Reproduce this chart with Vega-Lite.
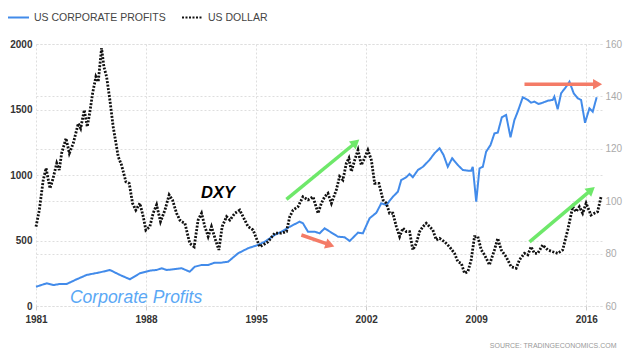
{
  "$schema": "https://vega.github.io/schema/vega-lite/v6.json",
  "width": 566,
  "height": 262,
  "autosize": {"type": "none"},
  "padding": {"left": 36, "top": 44, "right": 38, "bottom": 48},
  "background": "#ffffff",
  "config": {
    "view": {"stroke": null},
    "font": "Liberation Sans",
    "axis": {"gridColor": "#dedede", "gridDash": [2, 2], "gridWidth": 1, "domain": false, "labelFont": "Liberation Sans"}
  },
  "datasets": {
    "series": [
      {"year":1981.00,"value":147,"series":"US CORPORATE PROFITS"},
      {"year":1981.68,"value":173,"series":"US CORPORATE PROFITS"},
      {"year":1982.10,"value":160,"series":"US CORPORATE PROFITS"},
      {"year":1982.52,"value":168,"series":"US CORPORATE PROFITS"},
      {"year":1982.95,"value":168,"series":"US CORPORATE PROFITS"},
      {"year":1983.59,"value":204,"series":"US CORPORATE PROFITS"},
      {"year":1984.22,"value":237,"series":"US CORPORATE PROFITS"},
      {"year":1985.07,"value":257,"series":"US CORPORATE PROFITS"},
      {"year":1985.70,"value":275,"series":"US CORPORATE PROFITS"},
      {"year":1986.34,"value":237,"series":"US CORPORATE PROFITS"},
      {"year":1986.97,"value":204,"series":"US CORPORATE PROFITS"},
      {"year":1987.61,"value":250,"series":"US CORPORATE PROFITS"},
      {"year":1988.24,"value":270,"series":"US CORPORATE PROFITS"},
      {"year":1988.67,"value":275,"series":"US CORPORATE PROFITS"},
      {"year":1988.99,"value":288,"series":"US CORPORATE PROFITS"},
      {"year":1989.31,"value":275,"series":"US CORPORATE PROFITS"},
      {"year":1989.72,"value":280,"series":"US CORPORATE PROFITS"},
      {"year":1990.26,"value":288,"series":"US CORPORATE PROFITS"},
      {"year":1990.78,"value":262,"series":"US CORPORATE PROFITS"},
      {"year":1991.10,"value":300,"series":"US CORPORATE PROFITS"},
      {"year":1991.53,"value":313,"series":"US CORPORATE PROFITS"},
      {"year":1991.95,"value":313,"series":"US CORPORATE PROFITS"},
      {"year":1992.37,"value":331,"series":"US CORPORATE PROFITS"},
      {"year":1992.80,"value":331,"series":"US CORPORATE PROFITS"},
      {"year":1993.22,"value":338,"series":"US CORPORATE PROFITS"},
      {"year":1993.85,"value":402,"series":"US CORPORATE PROFITS"},
      {"year":1994.49,"value":441,"series":"US CORPORATE PROFITS"},
      {"year":1995.12,"value":466,"series":"US CORPORATE PROFITS"},
      {"year":1995.55,"value":491,"series":"US CORPORATE PROFITS"},
      {"year":1996.18,"value":542,"series":"US CORPORATE PROFITS"},
      {"year":1996.61,"value":567,"series":"US CORPORATE PROFITS"},
      {"year":1997.14,"value":605,"series":"US CORPORATE PROFITS"},
      {"year":1997.77,"value":644,"series":"US CORPORATE PROFITS"},
      {"year":1997.98,"value":631,"series":"US CORPORATE PROFITS"},
      {"year":1998.30,"value":567,"series":"US CORPORATE PROFITS"},
      {"year":1998.73,"value":567,"series":"US CORPORATE PROFITS"},
      {"year":1999.04,"value":555,"series":"US CORPORATE PROFITS"},
      {"year":1999.36,"value":593,"series":"US CORPORATE PROFITS"},
      {"year":1999.79,"value":560,"series":"US CORPORATE PROFITS"},
      {"year":2000.21,"value":529,"series":"US CORPORATE PROFITS"},
      {"year":2000.63,"value":525,"series":"US CORPORATE PROFITS"},
      {"year":2000.95,"value":496,"series":"US CORPORATE PROFITS"},
      {"year":2001.48,"value":560,"series":"US CORPORATE PROFITS"},
      {"year":2001.79,"value":555,"series":"US CORPORATE PROFITS"},
      {"year":2002.22,"value":670,"series":"US CORPORATE PROFITS"},
      {"year":2002.65,"value":712,"series":"US CORPORATE PROFITS"},
      {"year":2002.96,"value":784,"series":"US CORPORATE PROFITS"},
      {"year":2003.28,"value":771,"series":"US CORPORATE PROFITS"},
      {"year":2003.70,"value":834,"series":"US CORPORATE PROFITS"},
      {"year":2004.02,"value":873,"series":"US CORPORATE PROFITS"},
      {"year":2004.23,"value":962,"series":"US CORPORATE PROFITS"},
      {"year":2004.55,"value":983,"series":"US CORPORATE PROFITS"},
      {"year":2004.76,"value":1008,"series":"US CORPORATE PROFITS"},
      {"year":2004.97,"value":983,"series":"US CORPORATE PROFITS"},
      {"year":2005.29,"value":1038,"series":"US CORPORATE PROFITS"},
      {"year":2005.61,"value":1063,"series":"US CORPORATE PROFITS"},
      {"year":2006.03,"value":1115,"series":"US CORPORATE PROFITS"},
      {"year":2006.35,"value":1166,"series":"US CORPORATE PROFITS"},
      {"year":2006.67,"value":1204,"series":"US CORPORATE PROFITS"},
      {"year":2006.92,"value":1153,"series":"US CORPORATE PROFITS"},
      {"year":2007.19,"value":1063,"series":"US CORPORATE PROFITS"},
      {"year":2007.47,"value":1128,"series":"US CORPORATE PROFITS"},
      {"year":2007.83,"value":1076,"series":"US CORPORATE PROFITS"},
      {"year":2008.15,"value":1038,"series":"US CORPORATE PROFITS"},
      {"year":2008.47,"value":1033,"series":"US CORPORATE PROFITS"},
      {"year":2008.68,"value":1033,"series":"US CORPORATE PROFITS"},
      {"year":2008.78,"value":1063,"series":"US CORPORATE PROFITS"},
      {"year":2009.00,"value":796,"series":"US CORPORATE PROFITS"},
      {"year":2009.21,"value":1051,"series":"US CORPORATE PROFITS"},
      {"year":2009.42,"value":1063,"series":"US CORPORATE PROFITS"},
      {"year":2009.63,"value":1178,"series":"US CORPORATE PROFITS"},
      {"year":2009.91,"value":1229,"series":"US CORPORATE PROFITS"},
      {"year":2010.16,"value":1318,"series":"US CORPORATE PROFITS"},
      {"year":2010.37,"value":1323,"series":"US CORPORATE PROFITS"},
      {"year":2010.63,"value":1441,"series":"US CORPORATE PROFITS"},
      {"year":2010.90,"value":1458,"series":"US CORPORATE PROFITS"},
      {"year":2011.18,"value":1288,"series":"US CORPORATE PROFITS"},
      {"year":2011.43,"value":1420,"series":"US CORPORATE PROFITS"},
      {"year":2011.64,"value":1483,"series":"US CORPORATE PROFITS"},
      {"year":2011.96,"value":1593,"series":"US CORPORATE PROFITS"},
      {"year":2012.28,"value":1573,"series":"US CORPORATE PROFITS"},
      {"year":2012.49,"value":1552,"series":"US CORPORATE PROFITS"},
      {"year":2012.70,"value":1560,"series":"US CORPORATE PROFITS"},
      {"year":2012.96,"value":1542,"series":"US CORPORATE PROFITS"},
      {"year":2013.23,"value":1552,"series":"US CORPORATE PROFITS"},
      {"year":2013.55,"value":1567,"series":"US CORPORATE PROFITS"},
      {"year":2013.87,"value":1573,"series":"US CORPORATE PROFITS"},
      {"year":2013.97,"value":1598,"series":"US CORPORATE PROFITS"},
      {"year":2014.18,"value":1502,"series":"US CORPORATE PROFITS"},
      {"year":2014.40,"value":1624,"series":"US CORPORATE PROFITS"},
      {"year":2014.72,"value":1674,"series":"US CORPORATE PROFITS"},
      {"year":2014.93,"value":1712,"series":"US CORPORATE PROFITS"},
      {"year":2015.20,"value":1624,"series":"US CORPORATE PROFITS"},
      {"year":2015.45,"value":1586,"series":"US CORPORATE PROFITS"},
      {"year":2015.67,"value":1573,"series":"US CORPORATE PROFITS"},
      {"year":2015.92,"value":1399,"series":"US CORPORATE PROFITS"},
      {"year":2016.20,"value":1509,"series":"US CORPORATE PROFITS"},
      {"year":2016.41,"value":1483,"series":"US CORPORATE PROFITS"},
      {"year":2016.66,"value":1593,"series":"US CORPORATE PROFITS"},
      {"year":1981.00,"value":90.3,"series":"US DOLLAR"},
      {"year":1981.21,"value":96.6,"series":"US DOLLAR"},
      {"year":1981.46,"value":108.1,"series":"US DOLLAR"},
      {"year":1981.64,"value":112.6,"series":"US DOLLAR"},
      {"year":1981.89,"value":104.9,"series":"US DOLLAR"},
      {"year":1982.06,"value":108.1,"series":"US DOLLAR"},
      {"year":1982.32,"value":114.5,"series":"US DOLLAR"},
      {"year":1982.48,"value":111.9,"series":"US DOLLAR"},
      {"year":1982.63,"value":118.3,"series":"US DOLLAR"},
      {"year":1982.91,"value":124.0,"series":"US DOLLAR"},
      {"year":1983.12,"value":118.3,"series":"US DOLLAR"},
      {"year":1983.37,"value":122.1,"series":"US DOLLAR"},
      {"year":1983.69,"value":129.7,"series":"US DOLLAR"},
      {"year":1983.84,"value":127.8,"series":"US DOLLAR"},
      {"year":1984.07,"value":134.8,"series":"US DOLLAR"},
      {"year":1984.26,"value":128.4,"series":"US DOLLAR"},
      {"year":1984.43,"value":134.2,"series":"US DOLLAR"},
      {"year":1984.60,"value":141.2,"series":"US DOLLAR"},
      {"year":1984.81,"value":147.5,"series":"US DOLLAR"},
      {"year":1984.96,"value":145.6,"series":"US DOLLAR"},
      {"year":1985.17,"value":158.4,"series":"US DOLLAR"},
      {"year":1985.32,"value":151.3,"series":"US DOLLAR"},
      {"year":1985.49,"value":147.5,"series":"US DOLLAR"},
      {"year":1985.70,"value":138.6,"series":"US DOLLAR"},
      {"year":1985.91,"value":128.4,"series":"US DOLLAR"},
      {"year":1986.23,"value":117.0,"series":"US DOLLAR"},
      {"year":1986.44,"value":113.8,"series":"US DOLLAR"},
      {"year":1986.72,"value":107.4,"series":"US DOLLAR"},
      {"year":1986.93,"value":106.8,"series":"US DOLLAR"},
      {"year":1987.14,"value":99.2,"series":"US DOLLAR"},
      {"year":1987.35,"value":96.6,"series":"US DOLLAR"},
      {"year":1987.61,"value":99.2,"series":"US DOLLAR"},
      {"year":1987.82,"value":94.1,"series":"US DOLLAR"},
      {"year":1987.99,"value":89.0,"series":"US DOLLAR"},
      {"year":1988.24,"value":90.3,"series":"US DOLLAR"},
      {"year":1988.45,"value":95.4,"series":"US DOLLAR"},
      {"year":1988.67,"value":98.6,"series":"US DOLLAR"},
      {"year":1988.92,"value":92.2,"series":"US DOLLAR"},
      {"year":1989.20,"value":96.6,"series":"US DOLLAR"},
      {"year":1989.47,"value":102.4,"series":"US DOLLAR"},
      {"year":1989.68,"value":100.5,"series":"US DOLLAR"},
      {"year":1989.94,"value":95.4,"series":"US DOLLAR"},
      {"year":1990.15,"value":92.8,"series":"US DOLLAR"},
      {"year":1990.26,"value":92.2,"series":"US DOLLAR"},
      {"year":1990.47,"value":91.6,"series":"US DOLLAR"},
      {"year":1990.78,"value":83.9,"series":"US DOLLAR"},
      {"year":1991.06,"value":82.6,"series":"US DOLLAR"},
      {"year":1991.31,"value":92.8,"series":"US DOLLAR"},
      {"year":1991.53,"value":95.4,"series":"US DOLLAR"},
      {"year":1991.74,"value":90.3,"series":"US DOLLAR"},
      {"year":1991.95,"value":86.5,"series":"US DOLLAR"},
      {"year":1992.16,"value":90.3,"series":"US DOLLAR"},
      {"year":1992.42,"value":85.2,"series":"US DOLLAR"},
      {"year":1992.63,"value":81.4,"series":"US DOLLAR"},
      {"year":1992.84,"value":90.3,"series":"US DOLLAR"},
      {"year":1993.12,"value":94.1,"series":"US DOLLAR"},
      {"year":1993.33,"value":92.8,"series":"US DOLLAR"},
      {"year":1993.65,"value":95.4,"series":"US DOLLAR"},
      {"year":1993.96,"value":96.6,"series":"US DOLLAR"},
      {"year":1994.17,"value":94.1,"series":"US DOLLAR"},
      {"year":1994.49,"value":90.3,"series":"US DOLLAR"},
      {"year":1994.81,"value":89.0,"series":"US DOLLAR"},
      {"year":1995.02,"value":85.8,"series":"US DOLLAR"},
      {"year":1995.23,"value":82.6,"series":"US DOLLAR"},
      {"year":1995.44,"value":83.3,"series":"US DOLLAR"},
      {"year":1995.76,"value":84.5,"series":"US DOLLAR"},
      {"year":1996.18,"value":87.8,"series":"US DOLLAR"},
      {"year":1996.61,"value":87.8,"series":"US DOLLAR"},
      {"year":1996.93,"value":88.4,"series":"US DOLLAR"},
      {"year":1997.14,"value":94.1,"series":"US DOLLAR"},
      {"year":1997.35,"value":96.6,"series":"US DOLLAR"},
      {"year":1997.66,"value":97.9,"series":"US DOLLAR"},
      {"year":1997.98,"value":101.7,"series":"US DOLLAR"},
      {"year":1998.30,"value":100.5,"series":"US DOLLAR"},
      {"year":1998.62,"value":101.7,"series":"US DOLLAR"},
      {"year":1998.94,"value":95.4,"series":"US DOLLAR"},
      {"year":1999.15,"value":99.2,"series":"US DOLLAR"},
      {"year":1999.36,"value":101.7,"series":"US DOLLAR"},
      {"year":1999.57,"value":103.0,"series":"US DOLLAR"},
      {"year":1999.79,"value":99.2,"series":"US DOLLAR"},
      {"year":2000.10,"value":104.3,"series":"US DOLLAR"},
      {"year":2000.31,"value":109.4,"series":"US DOLLAR"},
      {"year":2000.52,"value":108.1,"series":"US DOLLAR"},
      {"year":2000.74,"value":114.5,"series":"US DOLLAR"},
      {"year":2000.90,"value":116.4,"series":"US DOLLAR"},
      {"year":2001.06,"value":111.3,"series":"US DOLLAR"},
      {"year":2001.27,"value":115.7,"series":"US DOLLAR"},
      {"year":2001.48,"value":119.5,"series":"US DOLLAR"},
      {"year":2001.69,"value":113.8,"series":"US DOLLAR"},
      {"year":2001.90,"value":116.4,"series":"US DOLLAR"},
      {"year":2002.11,"value":119.5,"series":"US DOLLAR"},
      {"year":2002.33,"value":115.7,"series":"US DOLLAR"},
      {"year":2002.54,"value":106.8,"series":"US DOLLAR"},
      {"year":2002.81,"value":106.8,"series":"US DOLLAR"},
      {"year":2003.07,"value":100.5,"series":"US DOLLAR"},
      {"year":2003.28,"value":99.2,"series":"US DOLLAR"},
      {"year":2003.49,"value":95.4,"series":"US DOLLAR"},
      {"year":2003.70,"value":95.4,"series":"US DOLLAR"},
      {"year":2003.92,"value":90.3,"series":"US DOLLAR"},
      {"year":2004.13,"value":86.5,"series":"US DOLLAR"},
      {"year":2004.34,"value":89.7,"series":"US DOLLAR"},
      {"year":2004.55,"value":88.4,"series":"US DOLLAR"},
      {"year":2004.76,"value":88.4,"series":"US DOLLAR"},
      {"year":2004.97,"value":81.4,"series":"US DOLLAR"},
      {"year":2005.19,"value":83.9,"series":"US DOLLAR"},
      {"year":2005.40,"value":88.4,"series":"US DOLLAR"},
      {"year":2005.61,"value":90.3,"series":"US DOLLAR"},
      {"year":2005.82,"value":91.6,"series":"US DOLLAR"},
      {"year":2006.03,"value":90.3,"series":"US DOLLAR"},
      {"year":2006.24,"value":89.0,"series":"US DOLLAR"},
      {"year":2006.46,"value":85.2,"series":"US DOLLAR"},
      {"year":2006.67,"value":85.8,"series":"US DOLLAR"},
      {"year":2006.99,"value":84.5,"series":"US DOLLAR"},
      {"year":2007.30,"value":82.6,"series":"US DOLLAR"},
      {"year":2007.62,"value":80.1,"series":"US DOLLAR"},
      {"year":2007.83,"value":76.9,"series":"US DOLLAR"},
      {"year":2008.05,"value":76.3,"series":"US DOLLAR"},
      {"year":2008.26,"value":72.5,"series":"US DOLLAR"},
      {"year":2008.47,"value":73.1,"series":"US DOLLAR"},
      {"year":2008.68,"value":77.6,"series":"US DOLLAR"},
      {"year":2008.89,"value":86.5,"series":"US DOLLAR"},
      {"year":2009.10,"value":86.5,"series":"US DOLLAR"},
      {"year":2009.32,"value":81.4,"series":"US DOLLAR"},
      {"year":2009.53,"value":79.5,"series":"US DOLLAR"},
      {"year":2009.84,"value":75.7,"series":"US DOLLAR"},
      {"year":2010.16,"value":81.4,"series":"US DOLLAR"},
      {"year":2010.37,"value":85.8,"series":"US DOLLAR"},
      {"year":2010.59,"value":81.4,"series":"US DOLLAR"},
      {"year":2010.90,"value":78.8,"series":"US DOLLAR"},
      {"year":2011.22,"value":75.0,"series":"US DOLLAR"},
      {"year":2011.54,"value":74.4,"series":"US DOLLAR"},
      {"year":2011.75,"value":77.6,"series":"US DOLLAR"},
      {"year":2012.07,"value":80.1,"series":"US DOLLAR"},
      {"year":2012.28,"value":79.5,"series":"US DOLLAR"},
      {"year":2012.49,"value":82.6,"series":"US DOLLAR"},
      {"year":2012.70,"value":80.1,"series":"US DOLLAR"},
      {"year":2012.91,"value":80.1,"series":"US DOLLAR"},
      {"year":2013.23,"value":83.3,"series":"US DOLLAR"},
      {"year":2013.55,"value":81.4,"series":"US DOLLAR"},
      {"year":2013.87,"value":80.7,"series":"US DOLLAR"},
      {"year":2014.18,"value":80.1,"series":"US DOLLAR"},
      {"year":2014.50,"value":81.4,"series":"US DOLLAR"},
      {"year":2014.82,"value":89.0,"series":"US DOLLAR"},
      {"year":2015.14,"value":97.9,"series":"US DOLLAR"},
      {"year":2015.35,"value":96.0,"series":"US DOLLAR"},
      {"year":2015.56,"value":97.9,"series":"US DOLLAR"},
      {"year":2015.77,"value":95.4,"series":"US DOLLAR"},
      {"year":2015.99,"value":99.2,"series":"US DOLLAR"},
      {"year":2016.30,"value":94.7,"series":"US DOLLAR"},
      {"year":2016.51,"value":95.4,"series":"US DOLLAR"},
      {"year":2016.72,"value":96.0,"series":"US DOLLAR"},
      {"year":2016.94,"value":101.7,"series":"US DOLLAR"}
    ]
  },
  "data": {"name": "series"},
  "encoding": {
    "x": {
      "field": "year",
      "type": "quantitative",
      "scale": {"domain": [1981, 2017], "nice": false, "zero": false},
      "axis": {
        "values": [1981, 1988, 1995, 2002, 2009, 2016],
        "format": "d",
        "grid": true,
        "ticks": true,
        "tickSize": 4,
        "tickColor": "#cccccc",
        "domain": false,
        "labelFontWeight": "bold",
        "labelFontSize": 10,
        "labelColor": "#333333",
        "labelPadding": 4,
        "labelFlush": false,
        "labelOverlap": false,
        "title": "SOURCE: TRADINGECONOMICS.COM",
        "titleFontSize": 7,
        "titleFontWeight": "normal",
        "titleColor": "#999999",
        "titleX": 580,
        "titleY": 39,
        "titleAlign": "right",
        "titleBaseline": "middle"
      }
    }
  },
  "layer": [
    {
      "layer": [
        {
          "transform": [{"filter": "datum.series === 'US CORPORATE PROFITS'"}],
          "mark": {"type": "line", "strokeWidth": 2, "interpolate": "linear"},
          "encoding": {
            "y": {
              "field": "value",
              "type": "quantitative",
              "scale": {"domain": [0, 2000], "nice": false, "zero": true},
              "axis": {
                "orient": "left",
                "values": [0, 500, 1000, 1500, 2000],
                "format": "d",
                "grid": true,
                "ticks": false,
                "domain": false,
                "labelFontWeight": "bold",
                "labelFontSize": 10,
                "labelColor": "#333333",
                "labelPadding": 4,
                "title": null
              }
            },
            "color": {
              "field": "series",
              "type": "nominal",
              "scale": {"domain": ["US CORPORATE PROFITS", "US DOLLAR"], "range": ["#428bea", "#111111"]},
              "legend": {"orient": "none", "legendX": -29, "legendY": -38, "direction": "horizontal", "title": null, "symbolType": "stroke", "symbolSize": 441, "symbolStrokeWidth": 2, "labelFontSize": 10.5, "labelColor": "#444444", "labelFont": "Liberation Sans", "columnPadding": 12, "labelOffset": 4}
            },
            "strokeDash": {
              "field": "series",
              "type": "nominal",
              "scale": {"domain": ["US CORPORATE PROFITS", "US DOLLAR"], "range": [[1, 0], [2, 1.5]]},
              "legend": {"orient": "none", "legendX": -29, "legendY": -38, "direction": "horizontal", "title": null, "symbolType": "stroke", "symbolSize": 441, "symbolStrokeWidth": 2, "labelFontSize": 10.5, "labelColor": "#444444", "labelFont": "Liberation Sans", "columnPadding": 12, "labelOffset": 4}
            }
          }
        },
        {
          "data": {"values": [{"year": 1983.16, "value": 59, "label": "Corporate Profits"}]},
          "mark": {"type": "text", "align": "left", "baseline": "middle", "font": "Liberation Sans", "fontStyle": "italic", "fontSize": 17.5, "color": "#5ba8f5"},
          "encoding": {
            "y": {"field": "value", "type": "quantitative"},
            "text": {"field": "label"}
          }
        }
      ]
    },
    {
      "layer": [
        {
          "transform": [{"filter": "datum.series === 'US DOLLAR'"}],
          "mark": {"type": "line", "strokeWidth": 2.8, "interpolate": "linear"},
          "encoding": {
            "y": {
              "field": "value",
              "type": "quantitative",
              "scale": {"domain": [60, 160], "nice": false, "zero": false},
              "axis": {
                "orient": "right",
                "values": [60, 80, 100, 120, 140, 160],
                "grid": true,
                "ticks": false,
                "domain": false,
                "labelFontSize": 10,
                "labelColor": "#aaaaaa",
                "labelPadding": 3,
                "title": null
              }
            },
            "color": {"field": "series", "type": "nominal"},
            "strokeDash": {"field": "series", "type": "nominal"}
          }
        },
        {
          "data": {"values": [{"year": 1992.58, "value": 103.1, "label": "DXY"}]},
          "mark": {"type": "text", "align": "center", "baseline": "middle", "font": "Liberation Sans", "fontStyle": "italic", "fontWeight": "bold", "fontSize": 16.5, "color": "#000000"},
          "encoding": {
            "y": {"field": "value", "type": "quantitative"},
            "text": {"field": "label"}
          }
        },
        {
          "data": {"values": [
            {"year": 1996.93, "value": 100.7, "year2": 2001.34, "value2": 122.4},
            {"year": 2012.39, "value": 84.5, "year2": 2016.32, "value2": 104.3}
          ]},
          "mark": {"type": "rule", "color": "#6ee86a", "strokeWidth": 3.5},
          "encoding": {
            "y": {"field": "value", "type": "quantitative"},
            "x2": {"field": "year2"},
            "y2": {"field": "value2"}
          }
        },
        {
          "data": {"values": [
            {"year": 2001.34, "value": 122.4},
            {"year": 2016.32, "value": 104.3}
          ]},
          "mark": {"type": "point", "shape": "triangle-right", "filled": true, "opacity": 1, "size": 110, "angle": 320, "color": "#6ee86a"},
          "encoding": {
            "y": {"field": "value", "type": "quantitative"}
          }
        },
        {
          "data": {"values": [
            {"year": 1997.88, "value": 87.1, "year2": 1999.70, "value2": 83.3},
            {"year": 2012.07, "value": 144.6, "year2": 2016.72, "value2": 144.6}
          ]},
          "mark": {"type": "rule", "color": "#f47b67", "strokeWidth": 3.5},
          "encoding": {
            "y": {"field": "value", "type": "quantitative"},
            "x2": {"field": "year2"},
            "y2": {"field": "value2"}
          }
        },
        {
          "data": {"values": [{"year": 1999.70, "value": 83.3}]},
          "mark": {"type": "point", "shape": "triangle-right", "filled": true, "opacity": 1, "size": 110, "angle": 19, "color": "#f47b67"},
          "encoding": {
            "y": {"field": "value", "type": "quantitative"}
          }
        },
        {
          "data": {"values": [{"year": 2016.72, "value": 144.6}]},
          "mark": {"type": "point", "shape": "triangle-right", "filled": true, "opacity": 1, "size": 110, "angle": 0, "color": "#f47b67"},
          "encoding": {
            "y": {"field": "value", "type": "quantitative"}
          }
        }
      ]
    }
  ],
  "resolve": {"scale": {"y": "independent"}}
}
